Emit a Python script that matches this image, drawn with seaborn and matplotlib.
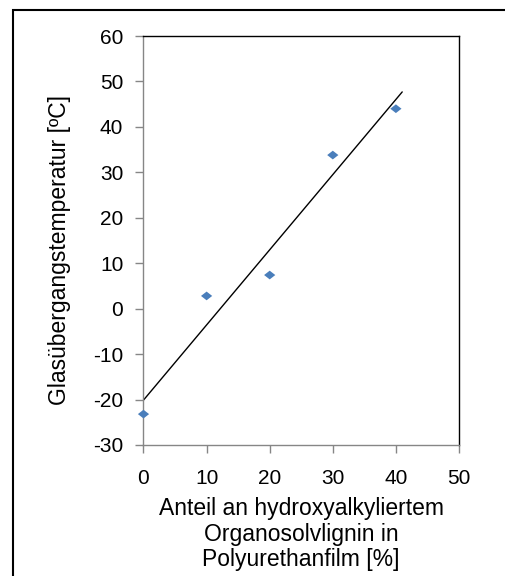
import numpy as np
import pandas as pd
import seaborn as sns
import matplotlib.pyplot as plt
from matplotlib.patches import Rectangle

# data
anteil = [0, 10, 20, 30, 40]
tg = [-23.2, 2.8, 7.4, 33.8, 44.0]
x_ticks = [0, 10, 20, 30, 40, 50]
y_ticks = [-30, -20, -10, 0, 10, 20, 30, 40, 50, 60]

df = pd.DataFrame({"Anteil": anteil, "Tg": tg})

sns.set_style("white")
plt.rcParams['font.family'] = ['Liberation Sans', 'DejaVu Sans']
plt.rcParams['axes.unicode_minus'] = False  # excel style hyphen minus
plt.rcParams['text.color'] = 'black'
plt.rcParams['axes.labelcolor'] = 'black'

fig = plt.figure(figsize=(5.06, 5.76), dpi=100)
ax = fig.add_axes([143.5 / 506, 1 - 445 / 576, (459 - 143.5) / 506, (445 - 36) / 576])

# excel-like flat diamond marker
diamond = [(-1, 0), (0, 0.78), (1, 0), (0, -0.78), (-1, 0)]
sns.scatterplot(data=df, x="Anteil", y="Tg", ax=ax, marker=diamond, s=65,
                color="#4a7ebb", edgecolor="none", clip_on=False, zorder=3)

# linear trendline, forecast forward by 1
slope, icpt = np.polyfit(df["Anteil"], df["Tg"], 1)
xs = np.array([0, 41])
ax.plot(xs, slope * xs + icpt, color="black", lw=1.0, zorder=2)

ax.set_xlim(0, 50)
ax.set_ylim(-30, 60)
ax.set_xticks(x_ticks)
ax.set_yticks(y_ticks)
ax.tick_params(axis="both", direction="out", length=5.5, width=1, color="#868686",
               labelsize=15, labelcolor="black", pad=9)
ax.tick_params(axis="x", pad=11.5)
ax.tick_params(left=True, bottom=True)

for side in ["left", "bottom"]:
    ax.spines[side].set_color("#868686")
    ax.spines[side].set_linewidth(1)
for side in ["top", "right"]:
    ax.spines[side].set_color("black")
    ax.spines[side].set_linewidth(1)

ax.set_xlabel("Anteil an hydroxyalkyliertem\nOrganosolvlignin in\nPolyurethanfilm [%]",
              fontsize=16.5, linespacing=1.12)
ax.set_ylabel("Glasübergangstemperatur [ºC]", fontsize=16.5)
ax.yaxis.set_label_coords(-0.23, 0.477)
ax.xaxis.set_label_coords(0.5, -0.128)
ax.xaxis.label.set_va("top")

# outer chart frame
fig.patches.append(Rectangle((13 / 506, -0.05), 1.2, 1 - 10 / 576 + 0.05,
                             transform=fig.transFigure, fill=False,
                             edgecolor="black", lw=1.5))

fig.savefig("out.png", dpi=100)
